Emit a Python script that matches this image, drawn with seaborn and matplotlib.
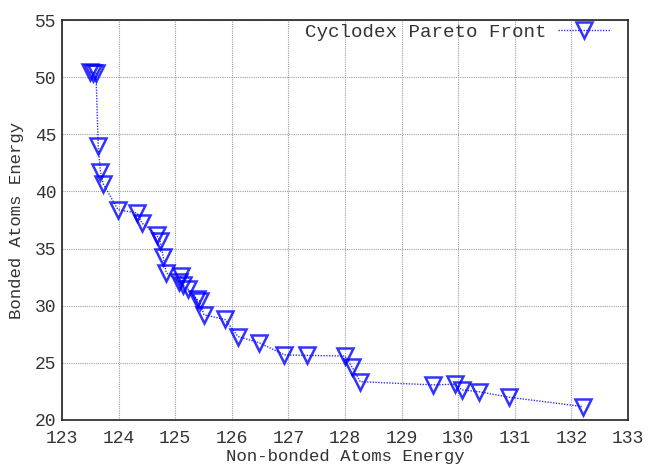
import matplotlib
matplotlib.use("Agg")
import matplotlib.pyplot as plt
import seaborn as sns
import pandas as pd

# Pareto front points (non-bonded energy, bonded energy), in front order
nonbonded = [123.50, 123.55, 123.60, 123.64, 123.68, 123.73, 123.99, 124.33,
             124.41, 124.67, 124.73, 124.79, 124.84, 125.07, 125.10, 125.14,
             125.23, 125.38, 125.43, 125.51, 125.88, 126.11, 126.48, 126.93,
             127.32, 128.00, 128.12, 128.27, 129.56, 129.94, 130.07, 130.36,
             130.90, 132.21]
bonded = [50.45, 50.40, 50.35, 44.00, 41.70, 40.65, 38.40, 38.10,
          37.25, 36.20, 35.70, 34.24, 32.89, 32.10, 32.60, 31.80,
          31.44, 30.56, 30.42, 29.20, 28.80, 27.30, 26.77, 25.70,
          25.65, 25.60, 24.67, 23.35, 23.07, 23.13, 22.63, 22.48,
          21.99, 21.17]

x_ticks = [123, 124, 125, 126, 127, 128, 129, 130, 131, 132, 133]
y_ticks = [20, 25, 30, 35, 40, 45, 50, 55]

df = pd.DataFrame({"x": nonbonded, "y": bonded})

sns.set_theme(style="white")
plt.rcParams["font.family"] = ["Liberation Mono", "DejaVu Sans Mono"]

fig = plt.figure(figsize=(6.52, 4.70), dpi=100)
ax = fig.add_axes([0.0951, 0.1064, 0.8681, 0.851])

sns.lineplot(data=df, x="x", y="y", sort=False, ax=ax,
             color="#0000ff", linestyle=(0, (1, 1)), linewidth=1.0, alpha=0.8,
             marker="v", markersize=11, markerfacecolor="none",
             markeredgecolor="#0000ff", markeredgewidth=1.8,
             label="Cyclodex Pareto Front")

ax.set_xlim(123, 133)
ax.set_ylim(20, 55)
ax.set_xticks(x_ticks)
ax.set_yticks(y_ticks)
ax.set_xlabel("Non-bonded Atoms Energy", fontsize=12.5, color="#333333", labelpad=2)
ax.set_ylabel("Bonded Atoms Energy", fontsize=12.5, color="#333333", labelpad=8)
ax.tick_params(axis="both", labelsize=13, colors="#333333", direction="in",
               length=4, width=0.8)
ax.tick_params(axis="x", pad=7)
ax.tick_params(axis="y", pad=4)
ax.grid(True, color="#a0a0a0", linestyle=(0, (1, 1)), linewidth=0.8)
for s in ax.spines.values():
    s.set_color("#222222")
    s.set_linewidth(1.2)

leg = ax.legend(loc="upper right", bbox_to_anchor=(0.984, 1.011),
                frameon=False, markerfirst=False, fontsize=13.8,
                handlelength=2.8, borderaxespad=0.0, handletextpad=0.6)
for t in leg.get_texts():
    t.set_color("#333333")

fig.savefig("out.png", dpi=100)
